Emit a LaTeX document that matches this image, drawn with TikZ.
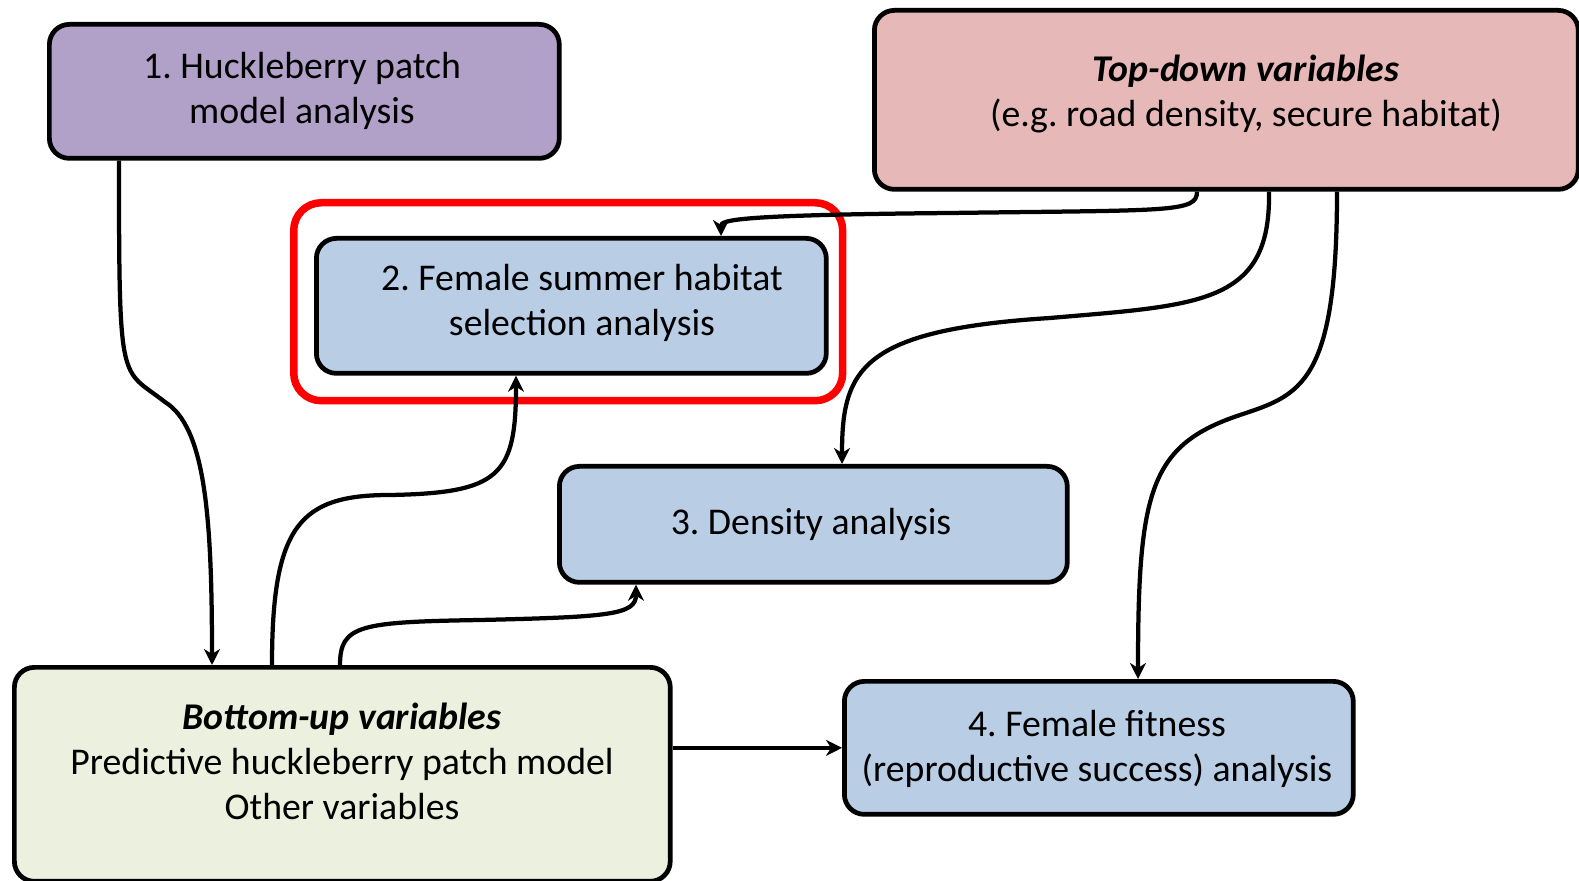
\documentclass[tikz,border=0pt]{standalone}
\usepackage{fontspec}
\setmainfont{Carlito}
\usetikzlibrary{arrows.meta,calc}
\definecolor{cpurple}{HTML}{B1A0C7}
\definecolor{cpink}{HTML}{E6B8B7}
\definecolor{cblue}{HTML}{B9CDE5}
\definecolor{cgreen}{HTML}{EBF1DE}
\tikzset{
  box/.style={draw=black, line width=0.095cm, rounded corners=0.4cm, anchor=north west, inner sep=0pt},
  txt/.style={align=center, font=\frenchspacing\fontsize{21.5}{25.6}\selectfont, inner sep=0pt},
  conn/.style={draw=black, line width=0.085cm, -{Stealth[length=0.32cm,width=0.32cm,inset=0.1cm]}},
}
\begin{document}
\begin{tikzpicture}[x=0.02cm,y=-0.02cm]
\useasboundingbox (0,0) rectangle (1579,881);
% boxes
\node[box, fill=cpurple, minimum width=10.2cm, minimum height=2.68cm] (b1) at (47,22) {};
\node[box, fill=cpink, minimum width=14.08cm, minimum height=3.58cm] (td) at (872,8) {};
\node[box, fill=cblue, minimum width=10.2cm, minimum height=2.7cm] (b2) at (314,236) {};
\node[box, draw=red, line width=0.15cm, rounded corners=0.55cm, minimum width=10.98cm, minimum height=3.96cm] (hl) at (290,199) {};
\node[box, fill=cblue, minimum width=10.16cm, minimum height=2.32cm] (b3) at (557,464) {};
\node[box, fill=cgreen, minimum width=13.12cm, minimum height=4.28cm] (bu) at (12,665) {};
\node[box, fill=cblue, minimum width=10.18cm, minimum height=2.66cm] (b4) at (842,679) {};
% texts
\node[txt] (t1) at (302,91) {1. Huckleberry patch\\model analysis};
\node[txt] (ttd) at (1246,94) {\textbf{\textit{Top-down variables}}\\(e.g. road density, secure habitat)};
\node[txt] (t2) at (582,303) {2. Female summer habitat\\selection analysis};
\node[txt] (t3) at (811,524) {3. Density analysis};
\node[txt] (tbu) at (342,761) {\textbf{\textit{Bottom-up variables}}\\Predictive huckleberry patch model\\Other variables};
\node[txt] (t4) at (1097,749) {4. Female fitness\\(reproductive success) analysis};
% connectors
\draw[conn] ($(b1.south west)+(72,0)$) .. controls +(0,230) and +(-45,-35) .. (165,402) .. controls +(40,25) and +(0,-150) .. ($(bu.north west)+(200,0)$);
\draw[conn] ($(bu.north west)+(260,0)$) .. controls +(0,-140) and +(-90,0) .. (390,495) .. controls +(110,-2) and +(0,100) .. ($(b2.south west)+(202,0)$);
\draw[conn] ($(bu.north west)+(328,0)$) .. controls +(0,-40) and +(-120,2) .. (480,620) .. controls +(130,-3) and +(0,30) .. ($(b3.south west)+(79,0)$);
\draw[conn] (b4.west -| bu.east) -- (b4.west);
\draw[conn] ($(td.south west)+(325,0)$) .. controls +(0,21) and +(220,-3) .. (950,213) .. controls +(-215,2) and +(0,-16) .. ($(b2.north west)+(407,0)$);
\draw[conn] ($(td.south west)+(397,0)$) .. controls +(2,113) and +(150,-13) .. (1050,318) .. controls +(-190,12) and +(0,-94) .. ($(b3.north west)+(285,0)$);
\draw[conn] ($(td.south west)+(465,0)$) .. controls +(0,193) and +(60,-20) .. (1240,415) .. controls +(-90,30) and +(0,-189) .. ($(b4.north west)+(296,0)$);
\end{tikzpicture}
\end{document}
